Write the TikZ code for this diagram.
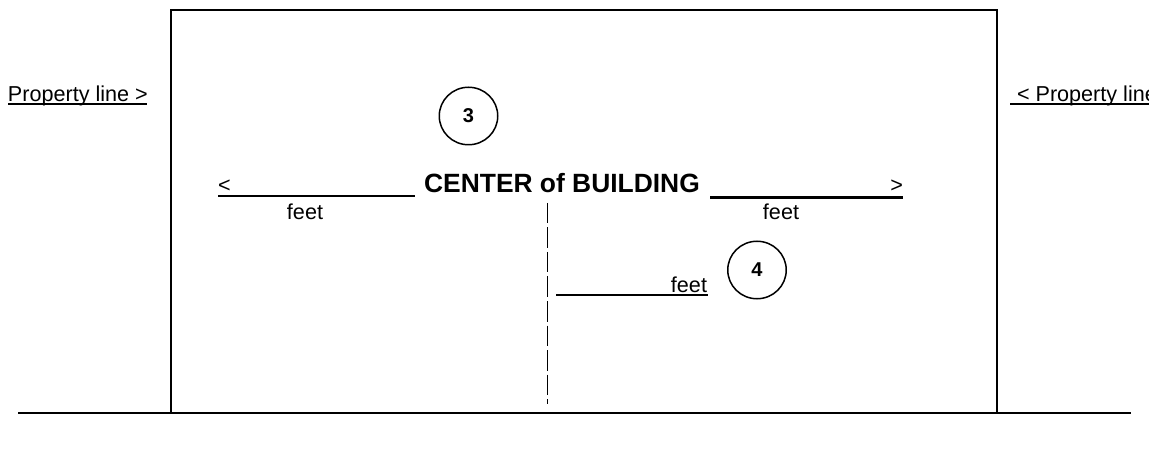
\documentclass[tikz,border=0pt]{standalone}
\usepackage{fontspec}
\setmainfont{Liberation Sans}
\tikzset{
  x=1pt,y=-1pt,
  ln/.style={draw=black,line width=1.7pt},
  rule/.style={draw=black,line width=2pt},
  thickrule/.style={draw=black,line width=2.8pt},
  txt/.style={inner sep=0pt,outer sep=0pt,anchor=base west,font=\fontsize{21.6}{24}\selectfont},
  ctr/.style={txt,anchor=base},
  bigt/.style={inner sep=0pt,outer sep=0pt,anchor=base,font=\fontsize{26.4}{30}\selectfont\bfseries},
  num/.style={draw=black,line width=1.5pt,ellipse,minimum width=58.5pt,minimum height=57.5pt,inner sep=0pt,font=\fontsize{20}{24}\selectfont\bfseries},
}
\usetikzlibrary{shapes.geometric}
\begin{document}
\begin{tikzpicture}
\useasboundingbox (0,0) rectangle (1149,449);
% building and ground
\coordinate (gl) at (18,413);
\coordinate (gr) at (1131,413);
\node[minimum width=0pt,inner sep=0pt] (bl) at (171,413) {};
\node[inner sep=0pt] (tl) at (171,10) {};
\node[inner sep=0pt] (tr) at (997,10) {};
\node[inner sep=0pt] (br) at (997,413) {};
\draw[ln] (gl) -- (gr);
\draw[ln,line join=miter] (bl.center) -- (tl.center) -- (tr.center) -- (br.center);
% property labels
\node[txt] (pl) at (8,101.5) {Property line >};
\coordinate (pla) at (8,104.5);
\coordinate (plb) at (147,104.5);
\draw[rule] (pla) -- (plb);
\node[txt] (pr) at (1017,101.5) {< Property line};
\coordinate (pra) at (1010,104.5);
\coordinate (prb) at (1149,104.5);
\draw[rule] (pra) -- (prb);
% circles
\node[num] (c3) at (468.5,116) {3};
\node[num] (c4) at (757,270) {4};
% center text
\node[bigt] (cb) at (562,193) {CENTER of BUILDING};
\node[txt] (la) at (218,192.5) {<};
\coordinate (lla) at (218,196);
\coordinate (llb) at (415,196);
\draw[rule] (lla) -- (llb);
\node[ctr] (lf) at (305,219.5) {feet};
\node[txt,anchor=base east] (ra) at (903,192.5) {>};
\coordinate (rla) at (710,197.3);
\coordinate (rlb) at (903,197.3);
\draw[thickrule] (rla) -- (rlb);
\node[ctr] (rf) at (781,219.5) {feet};
% centre line
\coordinate (da) at (547.5,203);
\coordinate (db) at (547.5,404);
\draw[draw=black,line width=1.4pt,dash pattern=on 20.5pt off 4pt] (da) -- (db);
\coordinate (fa) at (556,295);
\coordinate (fb) at (708,295);
\draw[rule] (fa) -- (fb);
\node[txt,anchor=base east] (cf) at (707,292) {feet};
\end{tikzpicture}
\end{document}
